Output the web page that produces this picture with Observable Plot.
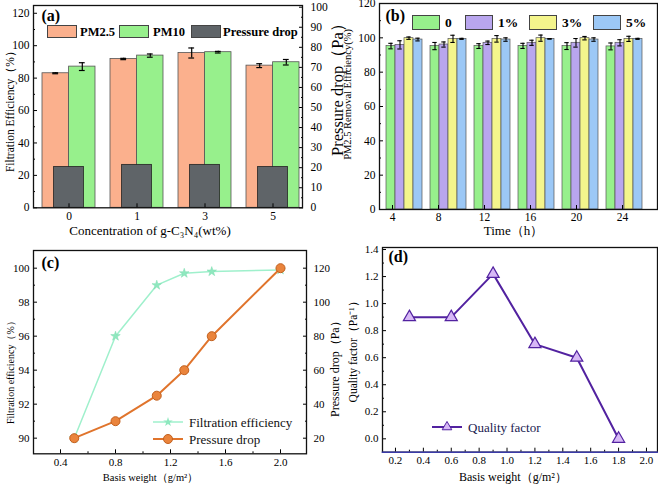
<!DOCTYPE html>
<html><head><meta charset="utf-8">
<script src="https://cdn.jsdelivr.net/npm/d3@7"></script>
<script src="https://cdn.jsdelivr.net/npm/@observablehq/plot@0.6"></script>
<style>
body{margin:0;background:#fff;}
#chart{position:relative;width:658px;height:486px;overflow:hidden;font-family:"Liberation Serif",serif;color:#000;}
#chart .p{position:absolute;}
#chart .leg{position:absolute;white-space:nowrap;font-family:"Liberation Serif",serif;color:#000;line-height:1;}
#chart .sw{position:absolute;box-sizing:border-box;border:1px solid #444;}
</style></head><body><div id="chart"></div>
<script>
// ---------- DATA ----------
// (a) filtration efficiency vs g-C3N4 concentration
const concGroups = ["0", "1", "3", "5"];
const pm25 = [83.0, 91.8, 95.5, 87.7];
const pm25Err = [0.3, 0.4, 3.1, 1.2];
const pm10 = [87.1, 93.9, 96.0, 89.8];
const pm10Err = [2.4, 1.0, 0.5, 1.7];
const pressureDropA = [20.3, 21.4, 21.4, 20.3];
const ticksA_left = [0, 20, 40, 60, 80, 100, 120];
const ticksA_right = [0, 10, 20, 30, 40, 50, 60, 70, 80, 90, 100];

// (b) PM2.5 removal efficiency over time
const times = ["4", "8", "12", "16", "20", "24"];
const loadings = ["0", "1%", "3%", "5%"];
const removal0 = [95.2, 95.2, 95.2, 95.3, 95.2, 95.0];
const removal0Err = [1.6, 2.1, 1.4, 1.5, 2.0, 2.0];
const removal1 = [95.9, 96.1, 97.1, 97.1, 97.1, 97.1];
const removal1Err = [2.4, 1.5, 1.0, 1.5, 2.5, 1.8];
const removal3 = [99.8, 99.4, 99.4, 99.8, 99.8, 99.4];
const removal3Err = [0.7, 2.1, 1.9, 1.8, 1.0, 1.5];
const removal5 = [99.0, 99.4, 99.0, 99.4, 99.0, 99.4];
const removal5Err = [0.8, 0.3, 1.0, 0.2, 1.0, 0.3];
const ticksB_left = [0, 20, 40, 60, 80, 100, 120];

// (c) filtration efficiency & pressure drop vs basis weight
const basisC = [0.5, 0.8, 1.1, 1.3, 1.5, 2.0];
const filtEffC = [90.0, 96.0, 99.0, 99.7, 99.8, 99.9];
const pressureC = [20, 30, 45, 60, 80, 120];
const ticksC_left = [90, 92, 94, 96, 98, 100];
const ticksC_right = [20, 40, 60, 80, 100, 120];
const ticksC_x = [0.4, 0.8, 1.2, 1.6, 2.0];

// (d) quality factor vs basis weight
const basisD = [0.3, 0.6, 0.9, 1.2, 1.5, 1.8];
const qualityD = [0.9, 0.9, 1.22, 0.7, 0.6, 0.0];
const ticksD_y = [0.0, 0.2, 0.4, 0.6, 0.8, 1.0, 1.2, 1.4];
const ticksD_x = [0.2, 0.4, 0.6, 0.8, 1.0, 1.2, 1.4, 1.6, 1.8, 2.0];

// colours
const cPM25 = "#fbb08d", cPM10 = "#97f08c", cPD = "#5f6468";
const colorsB = ["#97f08c", "#b9a6ee", "#f4f58c", "#9cc8f6"];
const cMint = "#9ff0cc", cOrange = "#e0742c", cPurple = "#5222a0";

// ---------- TABLES ----------
const tableA = concGroups.map((g, i) => ({group: g, pm25: pm25[i], pm25Err: pm25Err[i], pm10: pm10[i], pm10Err: pm10Err[i], pd: pressureDropA[i]}));
const seriesB = [[removal0, removal0Err], [removal1, removal1Err], [removal3, removal3Err], [removal5, removal5Err]];
const tableB = times.flatMap((t, i) => loadings.map((l, j) => ({time: t, load: l, value: seriesB[j][0][i], err: seriesB[j][1][i]})));
const tableC = basisC.map((b, i) => ({b, eff: filtEffC[i], pd: pressureC[i]}));
const tableD = basisD.map((b, i) => ({b, q: qualityD[i]}));

// ---------- HELPERS ----------
const FONT = "Liberation Serif, serif";
const baseStyle = {background: "transparent", overflow: "visible", fontFamily: FONT, fontSize: "11.5px", color: "#000"};
const axF = {fontFamily: FONT, fontSize: 11.5, label: null};
const mid = (a) => { const s = []; for (let i = 0; i < a.length - 1; i++) s.push((a[i] + a[i + 1]) / 2); return s; };
const blank = () => "";
const chart = document.getElementById("chart");
function place(svg, left, top) {
  const d = document.createElement("div");
  d.className = "p"; d.style.left = left + "px"; d.style.top = top + "px";
  d.appendChild(svg); chart.appendChild(d);
}
function yLabel(text, anchor, dx, dy, size) {
  return Plot.text([text], {text: d => d, frameAnchor: anchor, rotate: -90, dx, dy, textAnchor: "middle", lineAnchor: "middle", fontFamily: FONT, fontSize: size, fill: "#000"});
}
function xLabel(text, dx, dy, size) {
  return Plot.text([text], {text: d => d, frameAnchor: "bottom", dx, dy, textAnchor: "middle", lineAnchor: "middle", fontFamily: FONT, fontSize: size, fill: "#000"});
}
function panelLabel(text, dx, dy) {
  return Plot.text([text], {text: d => d, frameAnchor: "top-left", dx, dy, textAnchor: "start", lineAnchor: "top", fontFamily: FONT, fontSize: 16, fontWeight: "bold", fill: "#000"});
}

// ---------- (a) ----------
const dimA = {width: 345, height: 245, marginLeft: 33, marginRight: 43, marginTop: 5, marginBottom: 37.7};
const xA = {domain: concGroups, paddingInner: 0.215, paddingOuter: 0.084, align: 0.76};
const half = 13.3;
const errA = {stroke: "#000", strokeWidth: 1.2};
const capA = {insetLeft: 23.6, insetRight: 23.6, stroke: "#000", strokeWidth: 1.2};
const a1 = Plot.plot({
  ...dimA, style: baseStyle,
  x: {...xA, axis: null},
  y: {domain: [0, 124.8], axis: null},
  marks: [
    Plot.barY(tableA, {x: "group", y: "pm25", fill: cPM25, stroke: "#555", strokeWidth: 0.8, insetRight: 26.6}),
    Plot.barY(tableA, {x: "group", y: "pm10", fill: cPM10, stroke: "#555", strokeWidth: 0.8, insetLeft: 26.6}),
    Plot.ruleX(tableA, {x: "group", y1: d => d.pm25 - d.pm25Err, y2: d => d.pm25 + d.pm25Err, dx: -half, ...errA}),
    Plot.tickY(tableA, {x: "group", y: d => d.pm25 - d.pm25Err, dx: -half, ...capA}),
    Plot.tickY(tableA, {x: "group", y: d => d.pm25 + d.pm25Err, dx: -half, ...capA}),
    Plot.ruleX(tableA, {x: "group", y1: d => d.pm10 - d.pm10Err, y2: d => d.pm10 + d.pm10Err, dx: half, ...errA}),
    Plot.tickY(tableA, {x: "group", y: d => d.pm10 - d.pm10Err, dx: half, ...capA}),
    Plot.tickY(tableA, {x: "group", y: d => d.pm10 + d.pm10Err, dx: half, ...capA}),
    Plot.axisY({anchor: "left", ticks: ticksA_left, tickSize: -4, tickPadding: 8, ...axF}),
    Plot.axisY({anchor: "left", ticks: mid(ticksA_left), tickSize: -2, tickFormat: blank, ...axF}),
    yLabel("Filtration Efficiency（%）", "left", -23, 2, 11.5)
  ]
});
place(a1, 0, 0);
const a2 = Plot.plot({
  ...dimA, style: baseStyle,
  x: {...xA, axis: null},
  y: {domain: [0, 100.85], axis: null},
  marks: [
    Plot.barY(tableA, {x: "group", y: "pd", fill: cPD, stroke: "#222", strokeWidth: 0.8, insetLeft: 11.6, insetRight: 11.6}),
    Plot.axisY({anchor: "right", ticks: ticksA_right, tickSize: -4, tickPadding: 12, ...axF}),
    Plot.axisY({anchor: "right", ticks: mid(ticksA_right), tickSize: -2, tickFormat: blank, ...axF}),
    Plot.axisX({anchor: "bottom", tickSize: -4, tickPadding: 8, ...axF}),
    Plot.frame({stroke: "#111", strokeWidth: 1.3}),
    panelLabel("(a)", 8, 4),
    yLabel("Pressure drop（Pa）", "right", 35, -21, 16.5),
    xLabel("Concentration of g-C₃N₄(wt%)", -18, 22.7, 13)
  ]
});
place(a2, 0, 0);

// ---------- (b) ----------
const dimB = {width: 328, height: 245, marginLeft: 49, marginRight: 1, marginTop: 3, marginBottom: 36};
const fxB = {domain: times, paddingInner: 0.17, paddingOuter: 0.174, align: 0.27};
const errB = {stroke: "#000", strokeWidth: 1.1};
const capB = {insetLeft: 2.3, insetRight: 2.3, stroke: "#000", strokeWidth: 1.1};
const b1 = Plot.plot({
  ...dimB, style: baseStyle,
  fx: {...fxB, axis: null, label: null},
  x: {domain: loadings, padding: 0, axis: null},
  y: {domain: [0, 120], axis: null},
  color: {domain: loadings, range: colorsB},
  marks: [
    Plot.barY(tableB, {fx: "time", x: "load", y: "value", fill: "load", stroke: "#555", strokeWidth: 0.7}),
    Plot.ruleX(tableB, {fx: "time", x: "load", y1: d => d.value - d.err, y2: d => d.value + d.err, ...errB}),
    Plot.tickY(tableB, {fx: "time", x: "load", y: d => d.value - d.err, ...capB}),
    Plot.tickY(tableB, {fx: "time", x: "load", y: d => d.value + d.err, ...capB})
  ]
});
place(b1, 330, 0);
const b2 = Plot.plot({
  ...dimB, style: baseStyle,
  x: {...fxB, axis: null},
  y: {domain: [0, 120], axis: null},
  marks: [
    Plot.axisY({anchor: "left", ticks: ticksB_left, tickSize: -4, tickPadding: 8, ...axF}),
    Plot.axisY({anchor: "left", ticks: mid(ticksB_left), tickSize: -2, tickFormat: blank, ...axF}),
    Plot.axisX({anchor: "bottom", tickSize: -4, tickPadding: 7, ...axF}),
    Plot.frame({stroke: "#111", strokeWidth: 1.3}),
    panelLabel("(b)", 6, 6),
    yLabel("PM2.5 Removal Efficiency(%)", "left", -32, -12, 10.5),
    xLabel("Time（h）", -5, 21.5, 13)
  ]
});
place(b2, 330, 0);

// ---------- (c) ----------
const dimC = {width: 345, height: 241, marginLeft: 33, marginRight: 39, marginTop: 5, marginBottom: 32.7};
const xC = {domain: [0.2036, 2.189]};
const axC = {...axF, fontSize: 11};
const c1 = Plot.plot({
  ...dimC, style: baseStyle,
  x: {...xC, axis: null},
  y: {domain: [89.08, 101.04], axis: null},
  marks: [
    Plot.line(tableC, {x: "b", y: "eff", stroke: cMint, strokeWidth: 1.5}),
    Plot.dot(tableC, {x: "b", y: "eff", symbol: "star", r: 3, fill: "#8fe8bf", stroke: "#7fdcb0", strokeWidth: 0.5}),
    Plot.axisY({anchor: "left", ticks: ticksC_left, tickSize: -4, tickPadding: 8, ...axC}),
    Plot.axisY({anchor: "left", ticks: mid(ticksC_left), tickSize: -2, tickFormat: blank, ...axC}),
    Plot.axisX({anchor: "bottom", ticks: ticksC_x, tickSize: -4, tickPadding: 8, tickFormat: d3.format(".1f"), ...axC}),
    Plot.axisX({anchor: "bottom", ticks: mid(ticksC_x), tickSize: -2, tickFormat: blank, ...axC}),
    yLabel("Filtration efficiency（%）", "left", -23, 18, 10)
  ]
});
place(c1, 0, 245);
const c2 = Plot.plot({
  ...dimC, style: baseStyle,
  x: {...xC, axis: null},
  y: {domain: [10.82, 130.4], axis: null},
  marks: [
    Plot.line(tableC, {x: "b", y: "pd", stroke: cOrange, strokeWidth: 2}),
    Plot.dot(tableC, {x: "b", y: "pd", r: 4.5, fill: "#ea843c", stroke: "#c2601e", strokeWidth: 1}),
    Plot.axisY({anchor: "right", ticks: ticksC_right, tickSize: -4, tickPadding: 11, ...axC}),
    Plot.axisY({anchor: "right", ticks: mid(ticksC_right), tickSize: -2, tickFormat: blank, ...axC}),
    Plot.frame({stroke: "#111", strokeWidth: 1.3}),
    panelLabel("(c)", 8, 6),
    yLabel("Pressure drop（Pa）", "right", 29, 14, 12),
    xLabel("Basis weight（g/m²）", -19.5, 23.4, 10.5)
  ]
});
place(c2, 0, 245);

// ---------- (d) ----------
const d1 = Plot.plot({
  width: 328, height: 241, marginLeft: 52, marginRight: 1, marginTop: 2, marginBottom: 34.3,
  style: baseStyle,
  x: {domain: [0.107, 2.079], axis: null},
  y: {domain: [-0.099, 1.415], axis: null},
  marks: [
    Plot.line(tableD, {x: "b", y: "q", stroke: cPurple, strokeWidth: 2}),
    Plot.dot(tableD, {x: "b", y: "q", symbol: "triangle", r: 4.5, fill: "#d7b8f6", stroke: cPurple, strokeWidth: 1.2}),
    Plot.axisY({anchor: "left", ticks: ticksD_y, tickSize: -4, tickPadding: 8, tickFormat: d3.format(".1f"), ...axC}),
    Plot.axisY({anchor: "left", ticks: mid(ticksD_y), tickSize: -2, tickFormat: blank, ...axC}),
    Plot.axisX({anchor: "bottom", ticks: ticksD_x, tickSize: -4, tickPadding: 8, tickFormat: d3.format(".1f"), ...axC}),
    Plot.axisX({anchor: "bottom", ticks: mid(ticksD_x), tickSize: -2, tickFormat: blank, ...axC}),
    Plot.frame({stroke: "#111", strokeWidth: 1.3}),
    Plot.frame({anchor: "bottom", stroke: "#3a3aa8", strokeWidth: 1.5}),
    panelLabel("(d)", 6, 3),
    yLabel("Quality factor（Pa⁻¹）", "left", -29, -1, 11.5),
    xLabel("Basis weight（g/m²）", -7, 25, 12)
  ]
});
place(d1, 330, 245);

// ---------- LEGENDS (HTML, inside panels) ----------
function swatch(left, top, w, h, color) {
  const s = document.createElement("div");
  s.className = "sw";
  Object.assign(s.style, {left: left + "px", top: top + "px", width: w + "px", height: h + "px", background: color});
  chart.appendChild(s);
}
function legText(left, top, text, size, weight = "bold", color = "#000") {
  const t = document.createElement("div");
  t.className = "leg";
  t.textContent = text;
  Object.assign(t.style, {left: left + "px", top: top + "px", fontSize: size + "px", fontWeight: weight, color});
  chart.appendChild(t);
}
// (a)
[[cPM25, "PM2.5", 47, 80], [cPM10, "PM10", 119, 153], [cPD, "Pressure drop", 191, 223]].forEach(([c, t, x, tx]) => {
  swatch(x, 25, 30, 13, c); legText(tx, 25.5, t, 12.5);
});
// (b)
loadings.forEach((l, i) => {
  const xs = [412, 465, 529, 593][i];
  swatch(xs, 15, 28, 15, colorsB[i]); legText(xs + 33, 16, l, 13.5);
});
// (c) and (d) line legends
function lineLegend(left, top, color, width, markerSvg, text, textColor) {
  const d = document.createElement("div");
  d.className = "leg";
  d.style.left = left + "px"; d.style.top = top + "px";
  d.innerHTML = `<svg width="32" height="12" style="vertical-align:middle;overflow:visible"><line x1="0" y1="6" x2="30" y2="6" stroke="${color}" stroke-width="${width}"/>${markerSvg}</svg><span style="font-size:13px;margin-left:4px;vertical-align:middle;color:${textColor}">${text}</span>`;
  chart.appendChild(d);
}
lineLegend(153, 413, cMint, 1.5, `<path transform="translate(15,6)" d="${d3.symbol(d3.symbolStar, 28)()}" fill="#8fe8bf"/>`, "Filtration efficiency", "#111");
lineLegend(153, 430, cOrange, 2, `<circle cx="15" cy="6" r="4.5" fill="#ea843c" stroke="#c2601e"/>`, "Pressure drop", "#111");
lineLegend(432, 418, cPurple, 2, `<path transform="translate(15,6)" d="${d3.symbol(d3.symbolTriangle, 40)()}" fill="#d7b8f6" stroke="${cPurple}"/>`, "Quality factor", "#1a1a50");
</script></body></html>
